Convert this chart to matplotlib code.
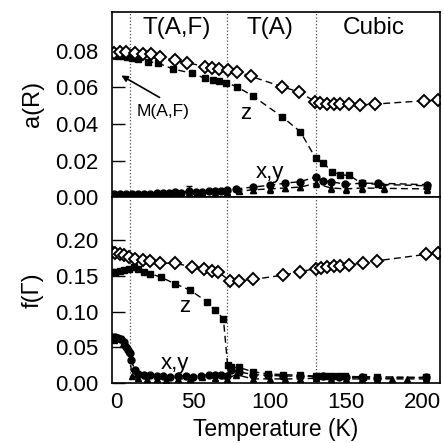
"""
a(R) and f(Gamma) order parameters vs temperature, two stacked panels
"""
import matplotlib
matplotlib.use("Agg")
import numpy as np
import matplotlib.pyplot as plt

plt.rcParams['font.family'] = ['Liberation Sans', 'DejaVu Sans']

# ======================== data: a(R) ========================
aR_diam_T = [-2, 2, 6, 12, 17, 22.7, 28, 38, 46, 57.7, 62, 67, 73, 78.5, 88, 108, 119,
             129.8, 133, 137.5, 142, 146, 151.7, 159.3, 169, 201, 210]
aR_diam = [0.0790, 0.0792, 0.0792, 0.0790, 0.0785, 0.0780, 0.0765, 0.0751, 0.0735, 0.0714,
           0.0708, 0.0700, 0.0696, 0.0687, 0.0660, 0.0604, 0.0576, 0.0522, 0.0516, 0.0512,
           0.0509, 0.0508, 0.0507, 0.0504, 0.0509, 0.0527, 0.0530]

aR_z_T = [-2, 1, 4, 7, 10, 14, 20.5, 27, 37, 49, 57.7, 63, 67, 71.5, 78.5, 89, 108, 120,
          130, 135, 141, 146, 152, 160, 171, 203]
aR_z = [0.0775, 0.0772, 0.0770, 0.0768, 0.0762, 0.0755, 0.0741, 0.0733, 0.0700, 0.0678,
        0.0650, 0.0642, 0.0634, 0.0626, 0.0604, 0.0553, 0.0440, 0.0358, 0.0213, 0.0185,
        0.0140, 0.0120, 0.0120, 0.0075, 0.0070, 0.0062]

aR_x_T = [-2, 2, 6, 10, 14, 18, 22, 26, 30, 34, 38, 42, 47, 52, 56, 60, 64, 68, 72, 78, 89,
          100, 110, 120, 130, 135, 140, 149.5, 160, 171, 203]
aR_x = [0.0015, 0.0015, 0.0015, 0.0015, 0.0016, 0.0017, 0.0018, 0.0020, 0.0022, 0.0022,
        0.0028, 0.0025, 0.0035, 0.0028, 0.0030, 0.0032, 0.0034, 0.0036, 0.0038, 0.0045,
        0.0055, 0.0065, 0.0076, 0.0085, 0.0110, 0.0090, 0.0085, 0.0070, 0.0076, 0.0076, 0.0068]

aR_y_T = [-2, 10, 22, 34, 47, 56, 64, 72, 80, 89, 100, 110, 120, 130, 140, 150, 160, 175, 203]
aR_y = [0.0010, 0.0012, 0.0013, 0.0015, 0.0030, 0.0022, 0.0025, 0.0028, 0.0032, 0.0040,
        0.0045, 0.0050, 0.0055, 0.0075, 0.0050, 0.0045, 0.0050, 0.0048, 0.0045]
aR_y_err = [0.0005, 0.0005, 0.0005, 0.0005, 0.0030, 0.0010, 0.0010, 0.0010, 0.0010, 0.0015,
            0.0020, 0.0015, 0.0015, 0.0020, 0.0020, 0.0020, 0.0020, 0.0020, 0.0020]

# ======================== data: f(Gamma) ========================
fG_diam_T = [-3, -1, 2, 5, 8, 12, 17, 22, 28, 38, 49, 57, 62, 66, 74, 80, 89, 109, 120, 130,
             133.5, 137.5, 142, 146, 152, 161, 170, 202, 210]
fG_diam = [0.1836, 0.182, 0.181, 0.179, 0.177, 0.174, 0.172, 0.171, 0.168, 0.1674, 0.163,
           0.159, 0.157, 0.156, 0.143, 0.143, 0.145, 0.151, 0.156, 0.160, 0.161, 0.162,
           0.1636, 0.1636, 0.165, 0.168, 0.171, 0.180, 0.182]

fG_z_T = [-3, -1, 2, 5, 8, 11, 14, 18, 22, 29, 38, 48, 58.8, 64, 69.7, 72.5, 75, 80, 89, 99,
          109, 120, 130, 133, 137, 141, 145, 149, 161, 170, 202]
fG_z = [0.155, 0.156, 0.157, 0.158, 0.160, 0.162, 0.160, 0.156, 0.153, 0.148, 0.139, 0.130,
        0.114, 0.102, 0.0904, 0.025, 0.022, 0.022, 0.016, 0.013, 0.012, 0.011, 0.010, 0.010,
        0.0105, 0.0105, 0.010, 0.0095, 0.009, 0.009, 0.008]

fG_x_T = [-3, -1, 1, 3, 5, 6.3, 7.5, 8.5, 9.6, 11.8, 14, 18, 22, 26, 30, 35, 40, 45, 50, 55,
          60, 64, 68, 72, 75, 80, 89, 99, 109, 120, 130, 135, 140, 145, 150, 160, 170, 202]
fG_x = [0.065, 0.064, 0.063, 0.062, 0.058, 0.051, 0.046, 0.042, 0.032, 0.018, 0.0135, 0.011,
        0.011, 0.010, 0.010, 0.009, 0.010, 0.010, 0.009, 0.010, 0.012, 0.012, 0.011, 0.010,
        0.018, 0.016, 0.012, 0.011, 0.010, 0.010, 0.009, 0.010, 0.009, 0.009, 0.008, 0.008,
        0.007, 0.008]

fG_y_T = [-2, 4, 8, 10, 14, 20, 26, 32, 40, 48, 56, 64, 72, 78, 89, 100, 110, 120, 130, 140,
          150, 160, 170, 180, 190, 202]
fG_y = [0.060, 0.055, 0.045, 0.010, 0.007, 0.006, 0.006, 0.005, 0.006, 0.006, 0.008, 0.007,
        0.006, 0.012, 0.006, 0.006, 0.006, 0.006, 0.007, 0.006, 0.006, 0.006, 0.006, 0.006,
        0.006, 0.006]

phase_T = [8.5, 72, 130]
phase_names = ['T(A,F)', 'T(A)', 'Cubic']
phase_label_T = [39, 100, 168]

# ======================== figure ========================
fig = plt.figure(figsize=(4.43, 4.43), dpi=100)
ax1 = fig.add_axes([0.2528, 0.555, 0.7404, 0.419])
ax2 = fig.add_axes([0.2528, 0.135, 0.7404, 0.420])

dash = (0, (5, 3))


def draw_panel(ax, dT, dv, zT, zv, xT, xv, yT, yv, yerr=None):
    ax.plot(xT, xv, color='k', ls=dash, lw=1, marker='o', ms=5, mfc='k', mec='k')
    if yerr is not None:
        ax.errorbar(yT, yv, yerr=yerr, color='k', ls=dash, lw=1, marker='^', ms=5,
                    mfc='k', mec='k', elinewidth=1, capsize=2.5)
    else:
        ax.plot(yT, yv, color='k', ls=dash, lw=1, marker='^', ms=5, mfc='k', mec='k')
    ax.plot(zT, zv, color='k', ls=dash, lw=1, marker='s', ms=5, mfc='k', mec='k')
    ax.plot(dT, dv, color='k', ls=dash, lw=1, marker='D', ms=6.5, mfc='white', mec='k',
            mew=1.4)
    for t in phase_T:
        ax.axvline(t, color='0.3', ls=':', lw=0.9, zorder=0)
    ax.set_xlim(-3.1, 211.3)
    ax.tick_params(axis='y', direction='in', length=9.5, width=1, pad=10, labelsize=16)
    ax.tick_params(axis='x', direction='in', length=0, pad=6, labelsize=16)
    for s in ax.spines.values():
        s.set_linewidth(1.2)


draw_panel(ax1, aR_diam_T, aR_diam, aR_z_T, aR_z, aR_x_T, aR_x, aR_y_T, aR_y, aR_y_err)
ax1.set_ylim(0, 0.1015)
ax1.set_yticks([0.00, 0.02, 0.04, 0.06, 0.08])
ax1.set_yticklabels(['0.00', '0.02', '0.04', '0.06', '0.08'])
ax1.set_xticks([0, 50, 100, 150, 200])
ax1.set_xticklabels([])
ax1.set_ylabel('a(R)', fontsize=17, labelpad=8)
for name, t in zip(phase_names, phase_label_T):
    ax1.text(t, 0.0925, name, ha='center', va='center', fontsize=17.5)
ax1.text(84.5, 0.0455, 'z', ha='center', va='center', fontsize=16)
ax1.text(100, 0.0133, 'x,y', ha='center', va='center', fontsize=16)
ax1.text(30, 0.0467, 'M(A,F)', ha='center', va='center', fontsize=12.5)
ax1.annotate('', xy=(3, 0.0665), xytext=(28, 0.0545),
             arrowprops=dict(arrowstyle='-|>', color='k', lw=1.2, mutation_scale=9,
                             shrinkA=0, shrinkB=0))

draw_panel(ax2, fG_diam_T, fG_diam, fG_z_T, fG_z, fG_x_T, fG_x, fG_y_T, fG_y)
ax2.set_ylim(0, 0.26)
ax2.set_yticks([0.00, 0.05, 0.10, 0.15, 0.20])
ax2.set_yticklabels(['0.00', '0.05', '0.10', '0.15', '0.20'])
ax2.set_xticks([0, 50, 100, 150, 200])
ax2.set_ylabel('f(Γ)', fontsize=17, labelpad=8)
ax2.set_xlabel('Temperature (K)', fontsize=16.5, labelpad=4)
ax2.text(44.6, 0.1067, 'z', ha='center', va='center', fontsize=16)
ax2.text(38, 0.0275, 'x,y', ha='center', va='center', fontsize=16)

fig.savefig('out.png', dpi=100)
